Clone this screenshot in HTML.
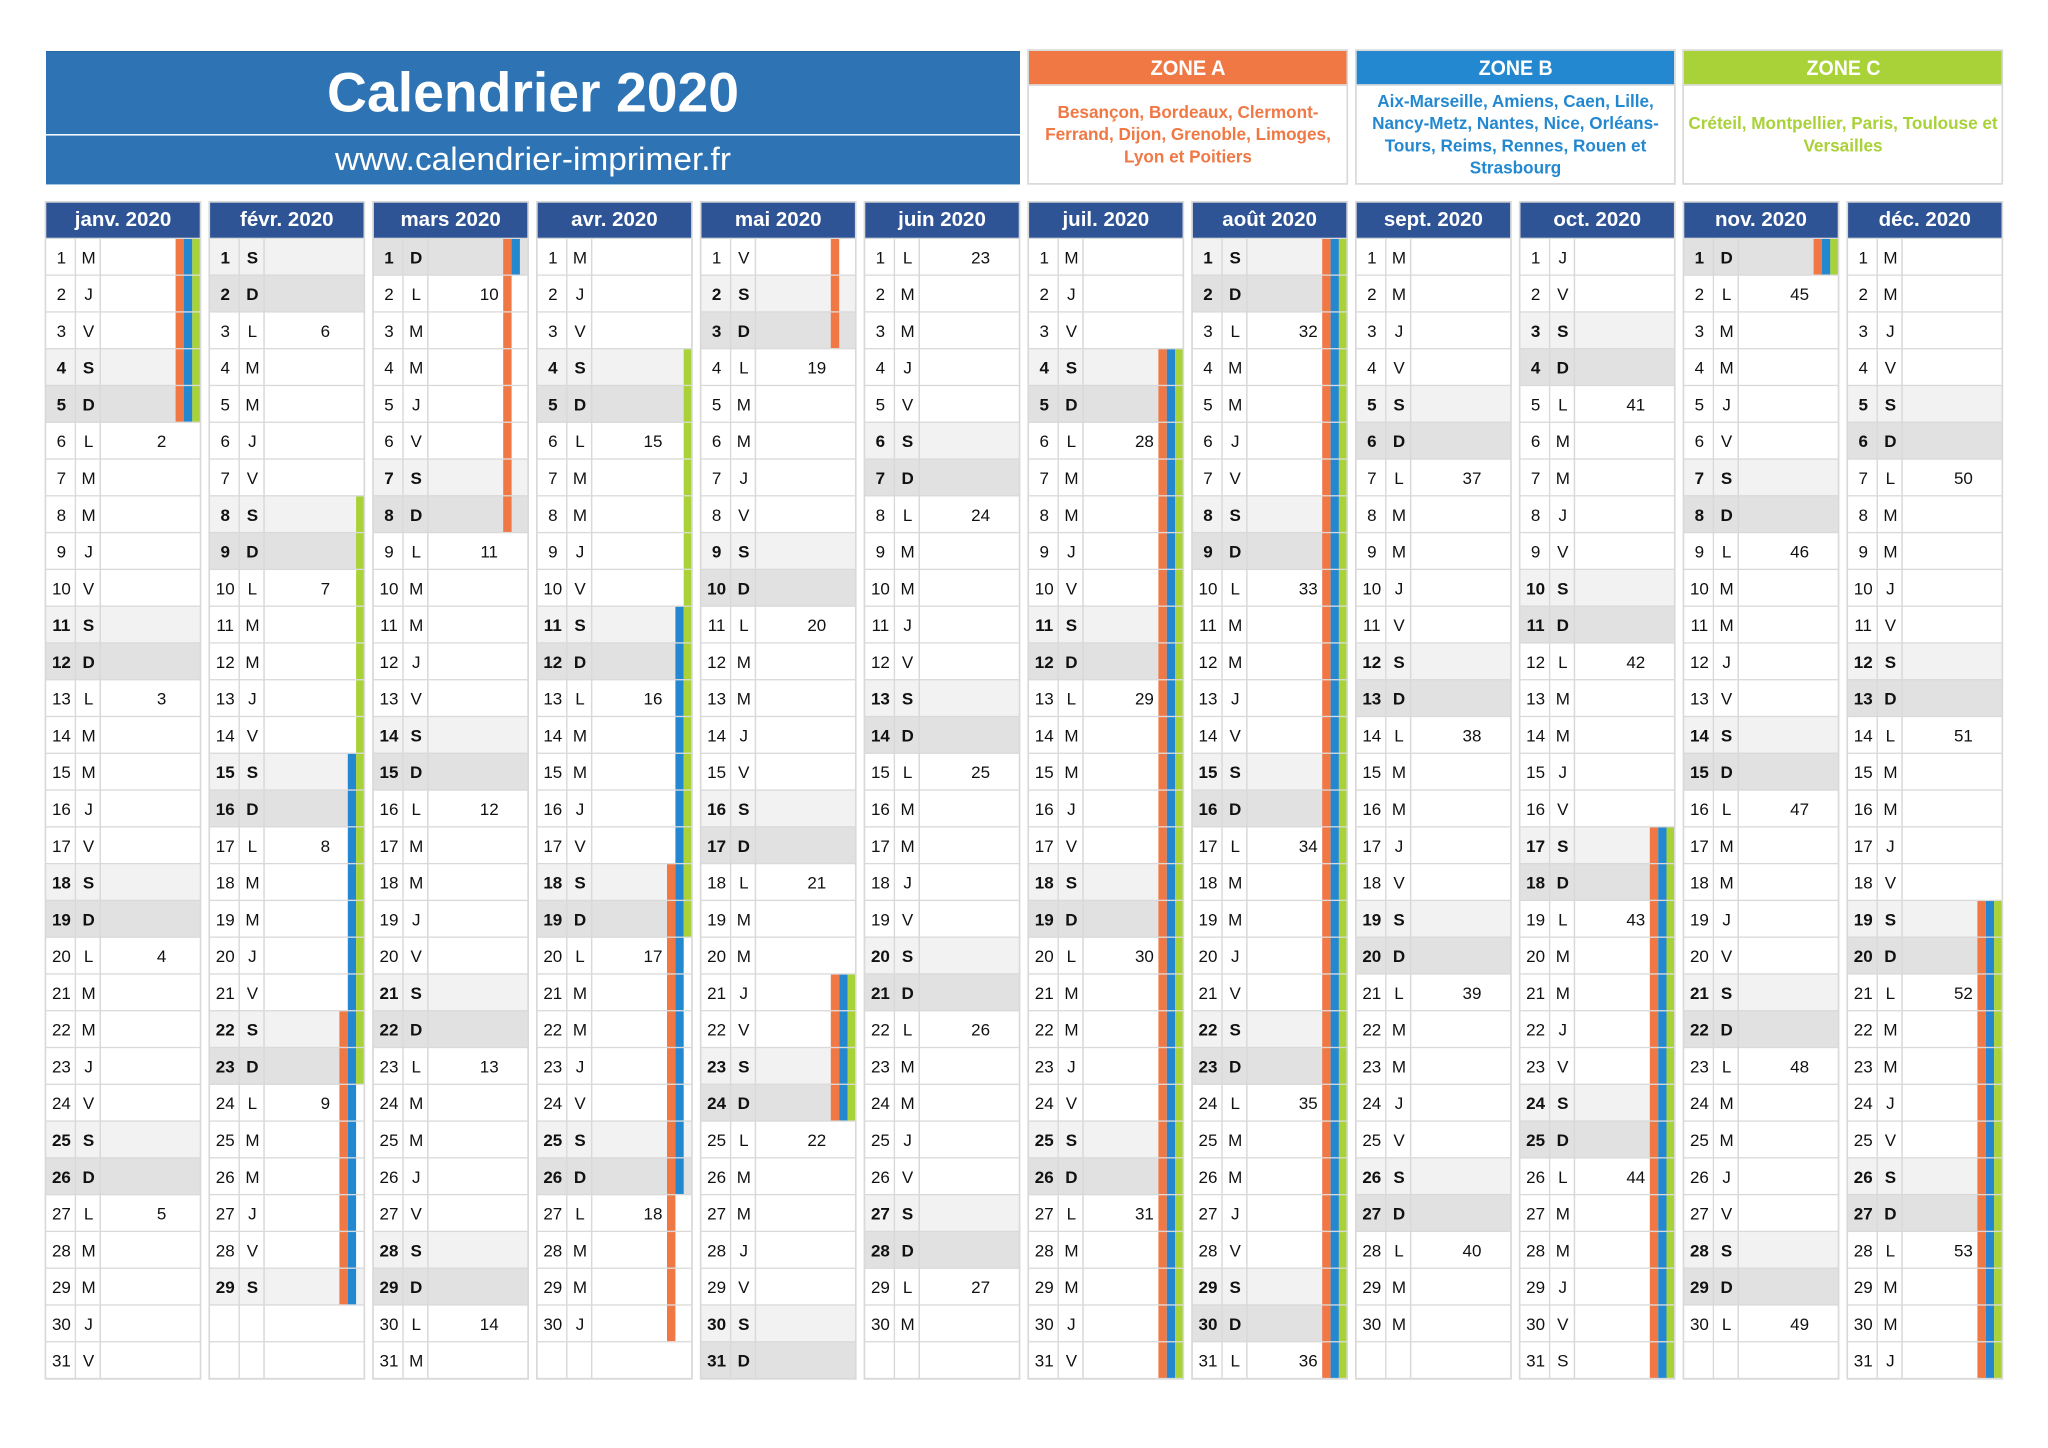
<!DOCTYPE html>
<html lang="fr">
<head>
<meta charset="utf-8">
<title>Calendrier 2020</title>
<style>
html,body{margin:0;padding:0;background:#fff;width:2048px;height:1448px;overflow:hidden}
svg{display:block;font-family:"Liberation Sans",Arial,sans-serif}
</style>
</head>
<body>
<svg id="cal" xmlns="http://www.w3.org/2000/svg" width="2048" height="1448" viewBox="0 0 2048 1448">
  <rect x="0" y="0" width="2048" height="1448" fill="#ffffff"/>
  <g>
    <rect x="46" y="51" width="974" height="133.5" fill="#2e74b5"/>
    <rect x="46" y="51" width="974" height="1" fill="#2a68a4"/>
    <rect x="46" y="134" width="974" height="1.6" fill="#f4f8fc"/>
    <rect x="46" y="184" width="974" height="1" fill="#9dc3e6"/>
    <text x="533" y="111.6" text-anchor="middle" font-size="56" font-weight="700" fill="#ffffff" textLength="412" lengthAdjust="spacingAndGlyphs">Calendrier 2020</text>
    <text x="533" y="170" text-anchor="middle" font-size="32" fill="#ffffff" textLength="396" lengthAdjust="spacingAndGlyphs">www.calendrier-imprimer.fr</text>
  </g>
  <g>
    <rect x="1028.1" y="50.1" width="319.2" height="133.8" fill="#ffffff" stroke="#d9d9d9" stroke-width="1.7"/>
    <rect x="1029" y="51" width="317.5" height="33.3" fill="#f07845"/>
    <rect x="1029" y="84.3" width="317.5" height="1.6" fill="#d9d9d9"/>
    <text x="1188" y="75" text-anchor="middle" font-size="21" font-weight="700" fill="#ffffff" textLength="75" lengthAdjust="spacingAndGlyphs">ZONE A</text>
    <g font-size="17.15" font-weight="700" fill="#f07845" text-anchor="middle">
      <text x="1188" y="118">Besançon, Bordeaux, Clermont-</text>
      <text x="1188" y="140.2">Ferrand, Dijon, Grenoble, Limoges,</text>
      <text x="1188" y="162.4">Lyon et Poitiers</text>
    </g>
  </g>
  <g>
    <rect x="1355.9" y="50.1" width="319" height="133.8" fill="#ffffff" stroke="#d9d9d9" stroke-width="1.7"/>
    <rect x="1356.7" y="51" width="317.3" height="33.3" fill="#2488d0"/>
    <rect x="1356.7" y="84.3" width="317.3" height="1.6" fill="#d9d9d9"/>
    <text x="1515.7" y="75" text-anchor="middle" font-size="21" font-weight="700" fill="#ffffff" textLength="74" lengthAdjust="spacingAndGlyphs">ZONE B</text>
    <g font-size="17.15" font-weight="700" fill="#2488d0" text-anchor="middle">
      <text x="1515.5" y="107">Aix-Marseille, Amiens, Caen, Lille,</text>
      <text x="1515.5" y="129.2">Nancy-Metz, Nantes, Nice, Orléans-</text>
      <text x="1515.5" y="151.4">Tours, Reims, Rennes, Rouen et</text>
      <text x="1515.5" y="173.6">Strasbourg</text>
    </g>
  </g>
  <g>
    <rect x="1683.1" y="50.1" width="319.2" height="133.8" fill="#ffffff" stroke="#d9d9d9" stroke-width="1.7"/>
    <rect x="1684" y="51" width="317.5" height="33.3" fill="#a9d138"/>
    <rect x="1684" y="84.3" width="317.5" height="1.6" fill="#d9d9d9"/>
    <text x="1843.5" y="75" text-anchor="middle" font-size="21" font-weight="700" fill="#ffffff" textLength="74" lengthAdjust="spacingAndGlyphs">ZONE C</text>
    <g font-size="17.15" font-weight="700" fill="#a9d138" text-anchor="middle">
      <text x="1843" y="129.2">Créteil, Montpellier, Paris, Toulouse et</text>
      <text x="1843" y="151.4">Versailles</text>
    </g>
  </g>
  <g id="months"></g>
</svg>
<script>
const monthLabels = ["janv. 2020","févr. 2020","mars 2020","avr. 2020","mai 2020","juin 2020","juil. 2020","août 2020","sept. 2020","oct. 2020","nov. 2020","déc. 2020"];
const monthLengths = [31,29,31,30,31,30,31,31,30,31,30,31];
const dayLetters = ["L","M","M","J","V","S","D"];
const firstWeekdayOfMonth = [2,5,6,2,4,0,2,5,1,3,6,1];
const weekNumbers = [[2,3,4,5],[6,7,8,9],[10,11,12,13,14],[15,16,17,18],[19,20,21,22],[23,24,25,26,27],[28,29,30,31],[32,33,34,35,36],[37,38,39,40],[41,42,43,44],[45,46,47,48,49],[50,51,52,53]];
const zoneAHolidays = [[1,1,1,5],[2,22,3,8],[4,18,5,3],[5,21,5,24],[7,4,8,31],[10,17,11,1],[12,19,12,31]];
const zoneBHolidays = [[1,1,1,5],[2,15,3,1],[4,11,4,26],[5,21,5,24],[7,4,8,31],[10,17,11,1],[12,19,12,31]];
const zoneCHolidays = [[1,1,1,5],[2,8,2,23],[4,4,4,19],[5,21,5,24],[7,4,8,31],[10,17,11,1],[12,19,12,31]];
const unshadedWeekendDays = [[10,31]];

const NS = "http://www.w3.org/2000/svg";
const COL_X0 = 44.6, COL_PITCH = 163.8, COL_W = 156.8;
const TOP = 201, HEAD_TOP = 202.7, HEAD_BOTTOM = 237.7, ROW_Y0 = 238.3, ROW_H = 36.78, BOTTOM = 1379.7;
const INNER_L = 1.7, INNER_R = 155.1, SEP1_L = 30.1, SEP1_R = 31.5, SEP2_L = 54.9, SEP2_R = 56.4;
const BAR_X = [131, 139.4, 147.7, 155.2];
const BORDER = "#d9d9d9", SAT = "#f2f2f2", SUN = "#e1e1e1", INK = "#111111";
const ZONE_COLORS = ["#f07845", "#2488d0", "#a9d138"];
const ZONE_LISTS = [zoneAHolidays, zoneBHolidays, zoneCHolidays];
const ZONE_NAMES = ["a", "b", "c"];

function colX(m) { return COL_X0 + COL_PITCH * m; }
function rowY(i) { return ROW_Y0 + ROW_H * i; }
function inRanges(list, m, d) {
  const k = m * 100 + d;
  return list.some(r => k >= r[0] * 100 + r[1] && k <= r[2] * 100 + r[3]);
}
function mk(tag, attrs, parent) {
  const el = document.createElementNS(NS, tag);
  for (const k in attrs) el.setAttribute(k, attrs[k]);
  parent.appendChild(el);
  return el;
}

const root = document.getElementById("months");
monthLabels.forEach((label, m) => {
  const x = colX(m);
  const col = mk("g", {}, root);
  
  

  const frame = mk("rect", {x: x, y: TOP, width: COL_W, height: BOTTOM - TOP, fill: BORDER}, col);
  
  

  const head = mk("rect", {x: x + INNER_L, y: HEAD_TOP, width: INNER_R - INNER_L, height: HEAD_BOTTOM - HEAD_TOP, fill: "#2e5496"}, col);
  
  

  const title = mk("text", {x: x + 78.4, y: 226, "text-anchor": "middle", "font-size": 20.5, "font-weight": 700, fill: "#ffffff"}, col);
  title.textContent = label;
  
  

  const mondays = weekNumbers[m];
  let mondayIndex = 0;
  for (let i = 0; i < 31; i++) {
    const day = i + 1;
    const exists = day <= monthLengths[m];
    const wd = exists ? (firstWeekdayOfMonth[m] + i) % 7 : -1;
    const plain = unshadedWeekendDays.some(p => p[0] === m + 1 && p[1] === day);
    const weekend = (wd === 5 || wd === 6) && !plain;
    const fill = weekend ? (wd === 5 ? SAT : SUN) : "#ffffff";
    const y = rowY(i) + 0.7;
    const h = ROW_H - 1.3;

    const row = mk("g", {}, col);
    
    

    const c1 = mk("rect", {x: x + INNER_L, y: y, width: SEP1_L - INNER_L, height: h, fill: fill}, row);
    
    
    const c2 = mk("rect", {x: x + SEP1_R, y: y, width: SEP2_L - SEP1_R, height: h, fill: fill}, row);
    
    
    const c3 = mk("rect", {x: x + SEP2_R, y: y, width: INNER_R - SEP2_R, height: h, fill: fill}, row);
    
    

    if (!exists) continue;

    ZONE_LISTS.forEach((list, z) => {
      if (!inRanges(list, m + 1, day)) return;
      const bar = mk("rect", {x: x + BAR_X[z], y: y, width: BAR_X[z + 1] - BAR_X[z], height: h, fill: ZONE_COLORS[z]}, row);
      
      
    });

    const base = rowY(i) + 25;
    const weight = weekend ? 700 : 400;
    const num = mk("text", {x: x + 16.8, y: base, "text-anchor": "middle", "font-size": 17, "font-weight": weight, fill: INK}, row);
    num.textContent = String(day);
    
    

    const letter = mk("text", {x: x + 44, y: base, "text-anchor": "middle", "font-size": 17, "font-weight": weight, fill: INK}, row);
    letter.textContent = dayLetters[wd];
    
    

    if (wd === 0) {
      const wk = mk("text", {x: x + 117, y: base, "text-anchor": "middle", "font-size": 17, fill: INK}, row);
      wk.textContent = String(mondays[mondayIndex]);
      
      
      mondayIndex++;
    }
  }
});
</script>
</body>
</html>
